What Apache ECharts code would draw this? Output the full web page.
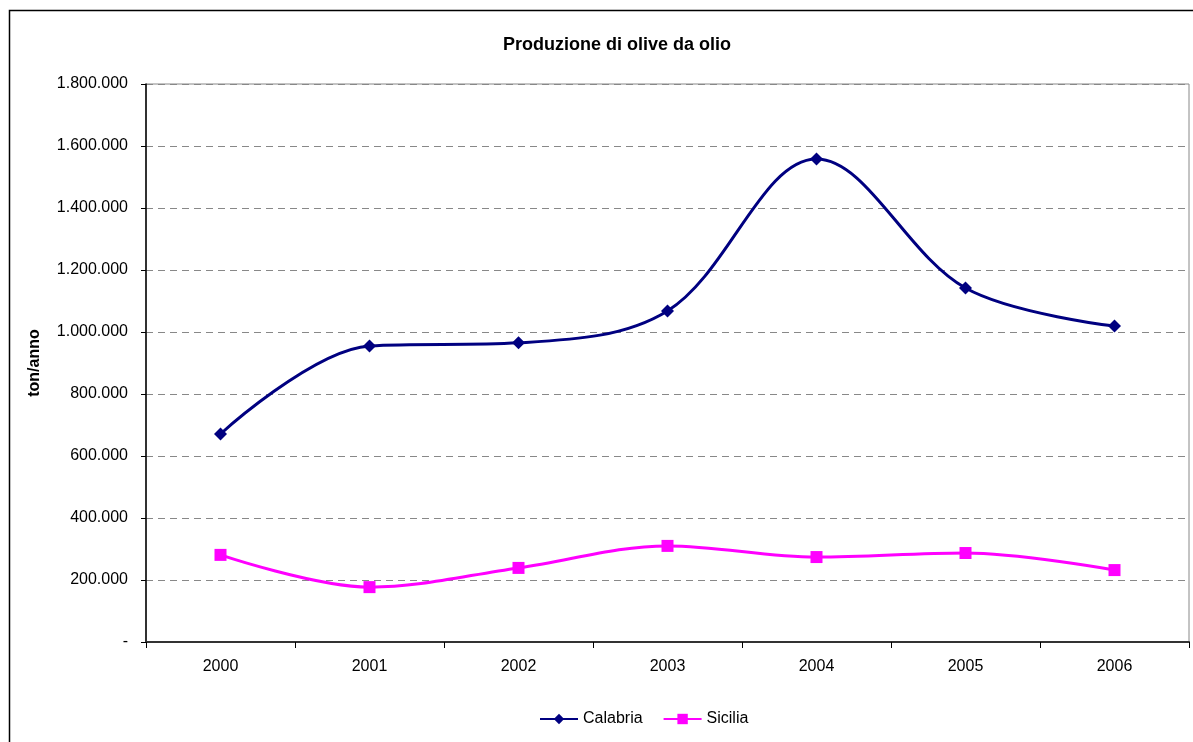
<!DOCTYPE html>
<html>
<head>
<meta charset="utf-8">
<script src="https://cdn.jsdelivr.net/npm/echarts@6/dist/echarts.min.js"></script>
<style>
  html, body { margin: 0; padding: 0; background: #fff; }
  #chart { width: 1193px; height: 742px; }
</style>
</head>
<body>
<div id="chart"></div>
<script>
// dati (ton/anno)
var anni = ['2000', '2001', '2002', '2003', '2004', '2005', '2006'];
var calabria = [671000, 955000, 965000, 1068000, 1558000, 1142000, 1019000];
var sicilia = [281000, 177000, 239000, 310000, 274000, 287000, 232000];

// formato italiano: 1.800.000, lo zero come "-"
const formatta = (v) => {
    if (v === 0) return '-';
    return String(v).replace(/\B(?=(\d{3})+(?!\d))/g, '.');
};

var chart = echarts.init(document.getElementById('chart'));
chart.setOption({
    animation: false,
    textStyle: { fontFamily: 'Liberation Sans, Arial, sans-serif' },
    title: {
        text: 'Produzione di olive da olio',
        left: 612,
        top: 31,
        textAlign: 'center',
        textStyle: { fontSize: 18, fontWeight: 'bold', color: '#000' }
    },
    graphic: [{
        type: 'rect',
        shape: { x: 9.5, y: 10.5, width: 1300, height: 900 },
        style: { fill: 'none', stroke: '#000', lineWidth: 1.5 },
        silent: true
    }],
    legend: {
        bottom: 10,
        left: 534,
        itemWidth: 38,
        itemHeight: 13,
        itemGap: 20,
        textStyle: { fontSize: 16, color: '#000' },
        data: ['Calabria', 'Sicilia']
    },
    grid: {
        left: 146,
        right: 4,
        top: 84,
        bottom: 100,
        show: true,
        borderColor: '#888',
        borderWidth: 1
    },
    xAxis: {
        type: 'category',
        data: anni,
        boundaryGap: true,
        axisLine: { lineStyle: { color: '#333', width: 2 } },
        axisTick: { show: true, inside: false, length: 6, lineStyle: { color: '#000' } },
        axisLabel: { fontSize: 16, color: '#000', margin: 17 }
    },
    yAxis: {
        type: 'value',
        name: 'ton/anno',
        nameLocation: 'middle',
        nameGap: 103,
        nameTextStyle: { fontSize: 16, fontWeight: 'bold', color: '#000' },
        min: 0,
        max: 1800000,
        interval: 200000,
        axisLine: { show: true, lineStyle: { color: '#000', width: 1.5 } },
        axisTick: { show: true, length: 5, lineStyle: { color: '#000' } },
        axisLabel: { fontSize: 16, color: '#000', margin: 18, formatter: formatta },
        splitLine: { show: true, lineStyle: { color: '#888', type: [7, 5], width: 1 } }
    },
    series: [
        {
            name: 'Calabria',
            type: 'line',
            data: calabria,
            smooth: 0.35,
            symbol: 'diamond',
            symbolSize: 13,
            lineStyle: { color: '#000080', width: 3 },
            itemStyle: { color: '#000080' }
        },
        {
            name: 'Sicilia',
            type: 'line',
            data: sicilia,
            smooth: 0.35,
            symbol: 'rect',
            symbolSize: 12,
            lineStyle: { color: '#ff00ff', width: 3 },
            itemStyle: { color: '#ff00ff' }
        }
    ]
});
</script>
</body>
</html>
